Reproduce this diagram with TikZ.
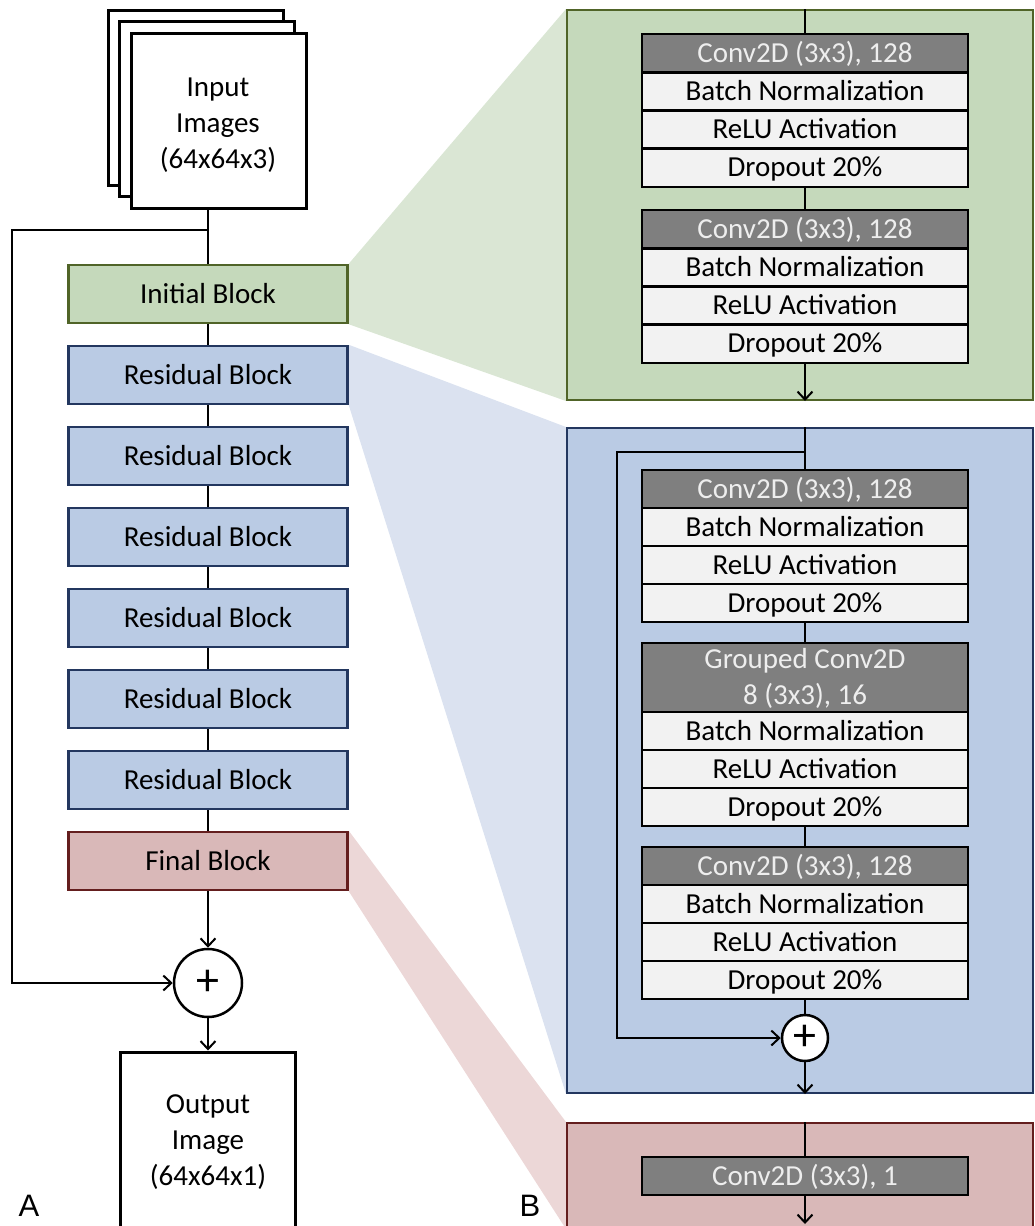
\documentclass[tikz,border=0pt]{standalone}
\usepackage{fontspec}
\setmainfont{Carlito}
\newfontfamily\panlabfont{Liberation Sans}
\usetikzlibrary{arrows.meta,backgrounds}
\definecolor{gfill}{RGB}{197,217,187}
\definecolor{gfun}{RGB}{218,230,212}
\definecolor{gline}{RGB}{80,100,40}
\definecolor{bfill}{RGB}{186,203,228}
\definecolor{bfun}{RGB}{219,226,240}
\definecolor{bline}{RGB}{35,55,95}
\definecolor{rfill}{RGB}{217,184,184}
\definecolor{rfun}{RGB}{236,215,215}
\definecolor{rline}{RGB}{100,30,30}
\definecolor{convgray}{RGB}{127,127,127}
\definecolor{convtext}{RGB}{238,238,238}
\definecolor{rowgray}{RGB}{242,242,242}
\newcommand\dgfont{\fontsize{29}{36}\selectfont}
\newcommand\plusfont{\fontsize{46}{50}\selectfont}
\newcommand\abfont{\panlabfont\fontsize{31}{36}\selectfont}
\tikzset{
  conn/.style={line width=2pt, draw=black},
  arr/.style={conn, -{Straight Barb[length=8pt,width=15pt]}},
  lblock/.style={draw, line width=2.5pt, minimum width=279pt, minimum height=58pt, inner sep=0pt, font=\dgfont, text height=23pt, text depth=5pt},
  initb/.style={lblock, fill=gfill, draw=gline},
  resb/.style={lblock, fill=bfill, draw=bline},
  finb/.style={lblock, fill=rfill, draw=rline},
  sheet/.style={draw=black, line width=3pt, fill=white, minimum width=175pt, minimum height=175pt, inner sep=0pt},
  rowbase/.style={draw=black, line width=2.5pt, minimum width=326pt, inner sep=0pt, font=\dgfont},
  crow/.style={rowbase, fill=convgray, text=convtext, minimum height=38.25pt, text height=23pt, text depth=5pt},
  crowtwo/.style={rowbase, fill=convgray, text=convtext, minimum height=70pt, align=center},
  lrow/.style={rowbase, fill=rowgray, text=black, minimum height=38.25pt, text height=23pt, text depth=5pt},
  addc/.style={circle, draw=black, line width=2.5pt, fill=white, inner sep=0pt, font=\plusfont},
  panel/.style={line width=2pt, minimum width=466pt, inner sep=0pt},
  plain/.style={font=\dgfont, align=center, inner sep=0pt},
  panlab/.style={font=\abfont, inner sep=0pt}
}
\begin{document}
\begin{tikzpicture}[x=1pt,y=-1pt]
\useasboundingbox (0,0) rectangle (1034,1226);
\clip (0,0) rectangle (1034,1226);

% ---------- panel A ----------
\node[sheet] (back) at (195.5,97.5) {};
\node[sheet] (mid) at (207,109) {};
\node[sheet] (front) at (218.5,120.5) {};
\node[plain] (intxt) at (218,125) {Input\\Images\\(64x64x3)};

\node[initb] (init) at (208,294) {Initial Block};
\node[resb] (res1) at (208,375) {Residual Block};
\node[resb] (res2) at (208,456) {Residual Block};
\node[resb] (res3) at (208,537) {Residual Block};
\node[resb] (res4) at (208,618) {Residual Block};
\node[resb] (res5) at (208,699) {Residual Block};
\node[resb] (res6) at (208,780) {Residual Block};
\node[finb] (fin) at (208,861) {Final Block};
\node[addc, minimum size=68pt] (plusA) at (208,983) {+};
\node[sheet, minimum height=200pt] (out) at (208,1152) {};
\node[plain] (outtxt) at (208,1142) {Output\\Image\\(64x64x1)};

\coordinate (abr) at (208,230);
\coordinate (aleft) at (12,230);
\draw[conn] (front.south -| init.north) -- (init.north);
\draw[arr] (abr) -- (aleft) |- (plusA.west);
\draw[conn] (init.south) -- (res1.north);
\draw[conn] (res1.south) -- (res2.north);
\draw[conn] (res2.south) -- (res3.north);
\draw[conn] (res3.south) -- (res4.north);
\draw[conn] (res4.south) -- (res5.north);
\draw[conn] (res5.south) -- (res6.north);
\draw[conn] (res6.south) -- (fin.north);
\draw[arr] (fin.south) -- (plusA.north);
\draw[arr] (plusA.south) -- (out.north);

\node[panlab] (labA) at (29,1206) {A};
\node[panlab] (labB) at (530,1206) {B};

% ---------- panels B ----------
\node[panel, draw=gline, fill=gfill, minimum height=390pt] (gpanel) at (800,205) {};
\node[panel, draw=bline, fill=bfill, minimum height=665pt] (bpanel) at (800,760.5) {};
\node[panel, draw=rline, fill=rfill, minimum height=105pt] (rpanel) at (800,1175.5) {};

\begin{scope}[on background layer]
\fill[gfun] (init.north east) -- (gpanel.north west) -- (gpanel.south west) -- (init.south east) -- cycle;
\fill[bfun] (res1.north east) -- (bpanel.north west) -- (bpanel.south west) -- (res1.south east) -- cycle;
\fill[rfun] (fin.north east) -- (rpanel.north west) -- (rpanel.south west) -- (fin.south east) -- cycle;
\end{scope}

% green panel
\node[crow] (g1c) at (805,53.1) {Conv2D (3x3), 128};
\node[lrow] (g1b) at (805,91.4) {Batch Normalization};
\node[lrow] (g1r) at (805,129.6) {ReLU Activation};
\node[lrow] (g1d) at (805,167.9) {Dropout 20\%};
\node[crow] (g2c) at (805,229.1) {Conv2D (3x3), 128};
\node[lrow] (g2b) at (805,267.4) {Batch Normalization};
\node[lrow] (g2r) at (805,305.6) {ReLU Activation};
\node[lrow] (g2d) at (805,343.9) {Dropout 20\%};
\draw[conn] (g1c.north |- gpanel.north) -- (g1c.north);
\draw[conn] (g1d.south) -- (g2c.north);
\draw[arr] (g2d.south) -- (g2d.south |- gpanel.south);

% blue panel
\node[crow] (b1c) at (805,489) {Conv2D (3x3), 128};
\node[lrow] (b1b) at (805,527) {Batch Normalization};
\node[lrow] (b1r) at (805,565) {ReLU Activation};
\node[lrow] (b1d) at (805,603) {Dropout 20\%};
\node[crowtwo] (b2c) at (805,678) {Grouped Conv2D\\8 (3x3), 16};
\node[lrow] (b2b) at (805,731) {Batch Normalization};
\node[lrow] (b2r) at (805,769) {ReLU Activation};
\node[lrow] (b2d) at (805,807) {Dropout 20\%};
\node[crow] (b3c) at (805,866) {Conv2D (3x3), 128};
\node[lrow] (b3b) at (805,904) {Batch Normalization};
\node[lrow] (b3r) at (805,942) {ReLU Activation};
\node[lrow] (b3d) at (805,980) {Dropout 20\%};
\node[addc, minimum size=46pt] (plusB) at (805,1038) {+};
\coordinate (bbr) at (805,452);
\coordinate (bleft) at (617,452);
\draw[conn] (b1c.north |- bpanel.north) -- (b1c.north);
\draw[arr] (bbr) -- (bleft) |- (plusB.west);
\draw[conn] (b1d.south) -- (b2c.north);
\draw[conn] (b2d.south) -- (b3c.north);
\draw[conn] (b3d.south) -- (plusB.north);
\draw[arr] (plusB.south) -- (plusB.south |- bpanel.south);

% red panel
\node[crow] (r1c) at (805,1176) {Conv2D (3x3), 1};
\coordinate (rend) at (805,1224);
\draw[conn] (r1c.north |- rpanel.north) -- (r1c.north);
\draw[arr] (r1c.south) -- (rend);
\end{tikzpicture}
\end{document}
